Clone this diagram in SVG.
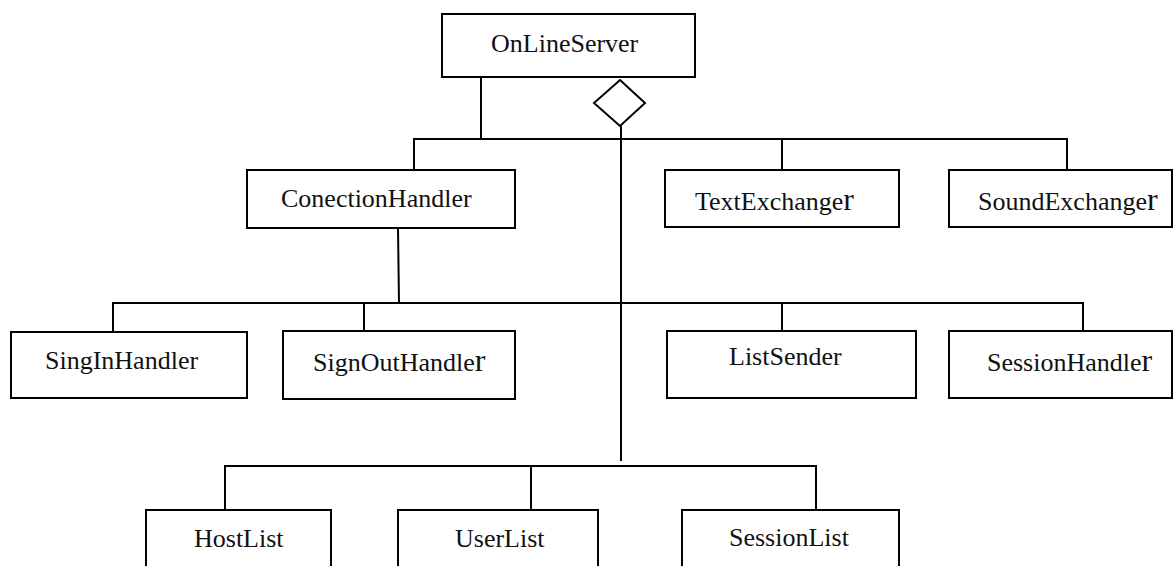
<svg xmlns="http://www.w3.org/2000/svg" width="1173" height="566" viewBox="0 0 1173 566">
<style>
.box{fill:#fff;stroke:#000;stroke-width:2}
.lbl{font-family:"Liberation Serif","Times New Roman",serif;font-size:26px;fill:#111}
.big{font-size:32px}
.ln{stroke:#000;stroke-width:2;fill:none}
</style>
<rect width="1173" height="566" fill="#fff"/>
<g id="connectors">
<line class="ln" x1="481" y1="78" x2="481" y2="139"/>
<line class="ln" x1="413" y1="139" x2="1068" y2="139"/>
<line class="ln" x1="414" y1="139" x2="414" y2="170"/>
<line class="ln" x1="782" y1="139" x2="782" y2="170"/>
<line class="ln" x1="1067" y1="139" x2="1067" y2="170"/>
<polygon class="ln" points="620,80 645,103 620,126 594,103" fill="#fff"/>
<line class="ln" x1="621" y1="126" x2="621" y2="461"/>
<line class="ln" x1="398" y1="228" x2="399" y2="303"/>
<line class="ln" x1="112" y1="303" x2="1084" y2="303"/>
<line class="ln" x1="113" y1="303" x2="113" y2="332"/>
<line class="ln" x1="364" y1="303" x2="364" y2="331"/>
<line class="ln" x1="782" y1="303" x2="782" y2="331"/>
<line class="ln" x1="1083" y1="303" x2="1083" y2="331"/>
<line class="ln" x1="224" y1="466" x2="817" y2="466"/>
<line class="ln" x1="225" y1="466" x2="225" y2="510"/>
<line class="ln" x1="531" y1="466" x2="531" y2="510"/>
<line class="ln" x1="816" y1="466" x2="816" y2="510"/>
</g>
<g id="OnLineServer"><rect class="box" x="442" y="14" width="253" height="63"/><text class="lbl" x="491" y="52">OnLineServer</text></g>
<g id="ConectionHandler"><rect class="box" x="247" y="170" width="268" height="58"/><text class="lbl" x="281" y="207">ConectionHandler</text></g>
<g id="TextExchanger"><rect class="box" x="665" y="170" width="234" height="57"/><text class="lbl" x="695" y="210">TextExchange<tspan class="big">r</tspan></text></g>
<g id="SoundExchanger"><rect class="box" x="949" y="170" width="223" height="57"/><text class="lbl" x="978" y="210">SoundExchange<tspan class="big">r</tspan></text></g>
<g id="SingInHandler"><rect class="box" x="11" y="332" width="236" height="66"/><text class="lbl" x="45" y="369">SingInHandler</text></g>
<g id="SignOutHandler"><rect class="box" x="283" y="331" width="232" height="68"/><text class="lbl" x="313" y="371">SignOutHandle<tspan class="big">r</tspan></text></g>
<g id="ListSender"><rect class="box" x="667" y="331" width="249" height="67"/><text class="lbl" x="729" y="365">ListSender</text></g>
<g id="SessionHandler"><rect class="box" x="949" y="331" width="223" height="67"/><text class="lbl" x="987" y="371">SessionHandle<tspan class="big">r</tspan></text></g>
<g id="HostList"><rect class="box" x="146" y="510" width="185" height="70"/><text class="lbl" x="194" y="547">HostList</text></g>
<g id="UserList"><rect class="box" x="398" y="510" width="200" height="70"/><text class="lbl" x="455" y="547">UserList</text></g>
<g id="SessionList"><rect class="box" x="682" y="510" width="217" height="70"/><text class="lbl" x="729" y="546">SessionList</text></g>
</svg>
